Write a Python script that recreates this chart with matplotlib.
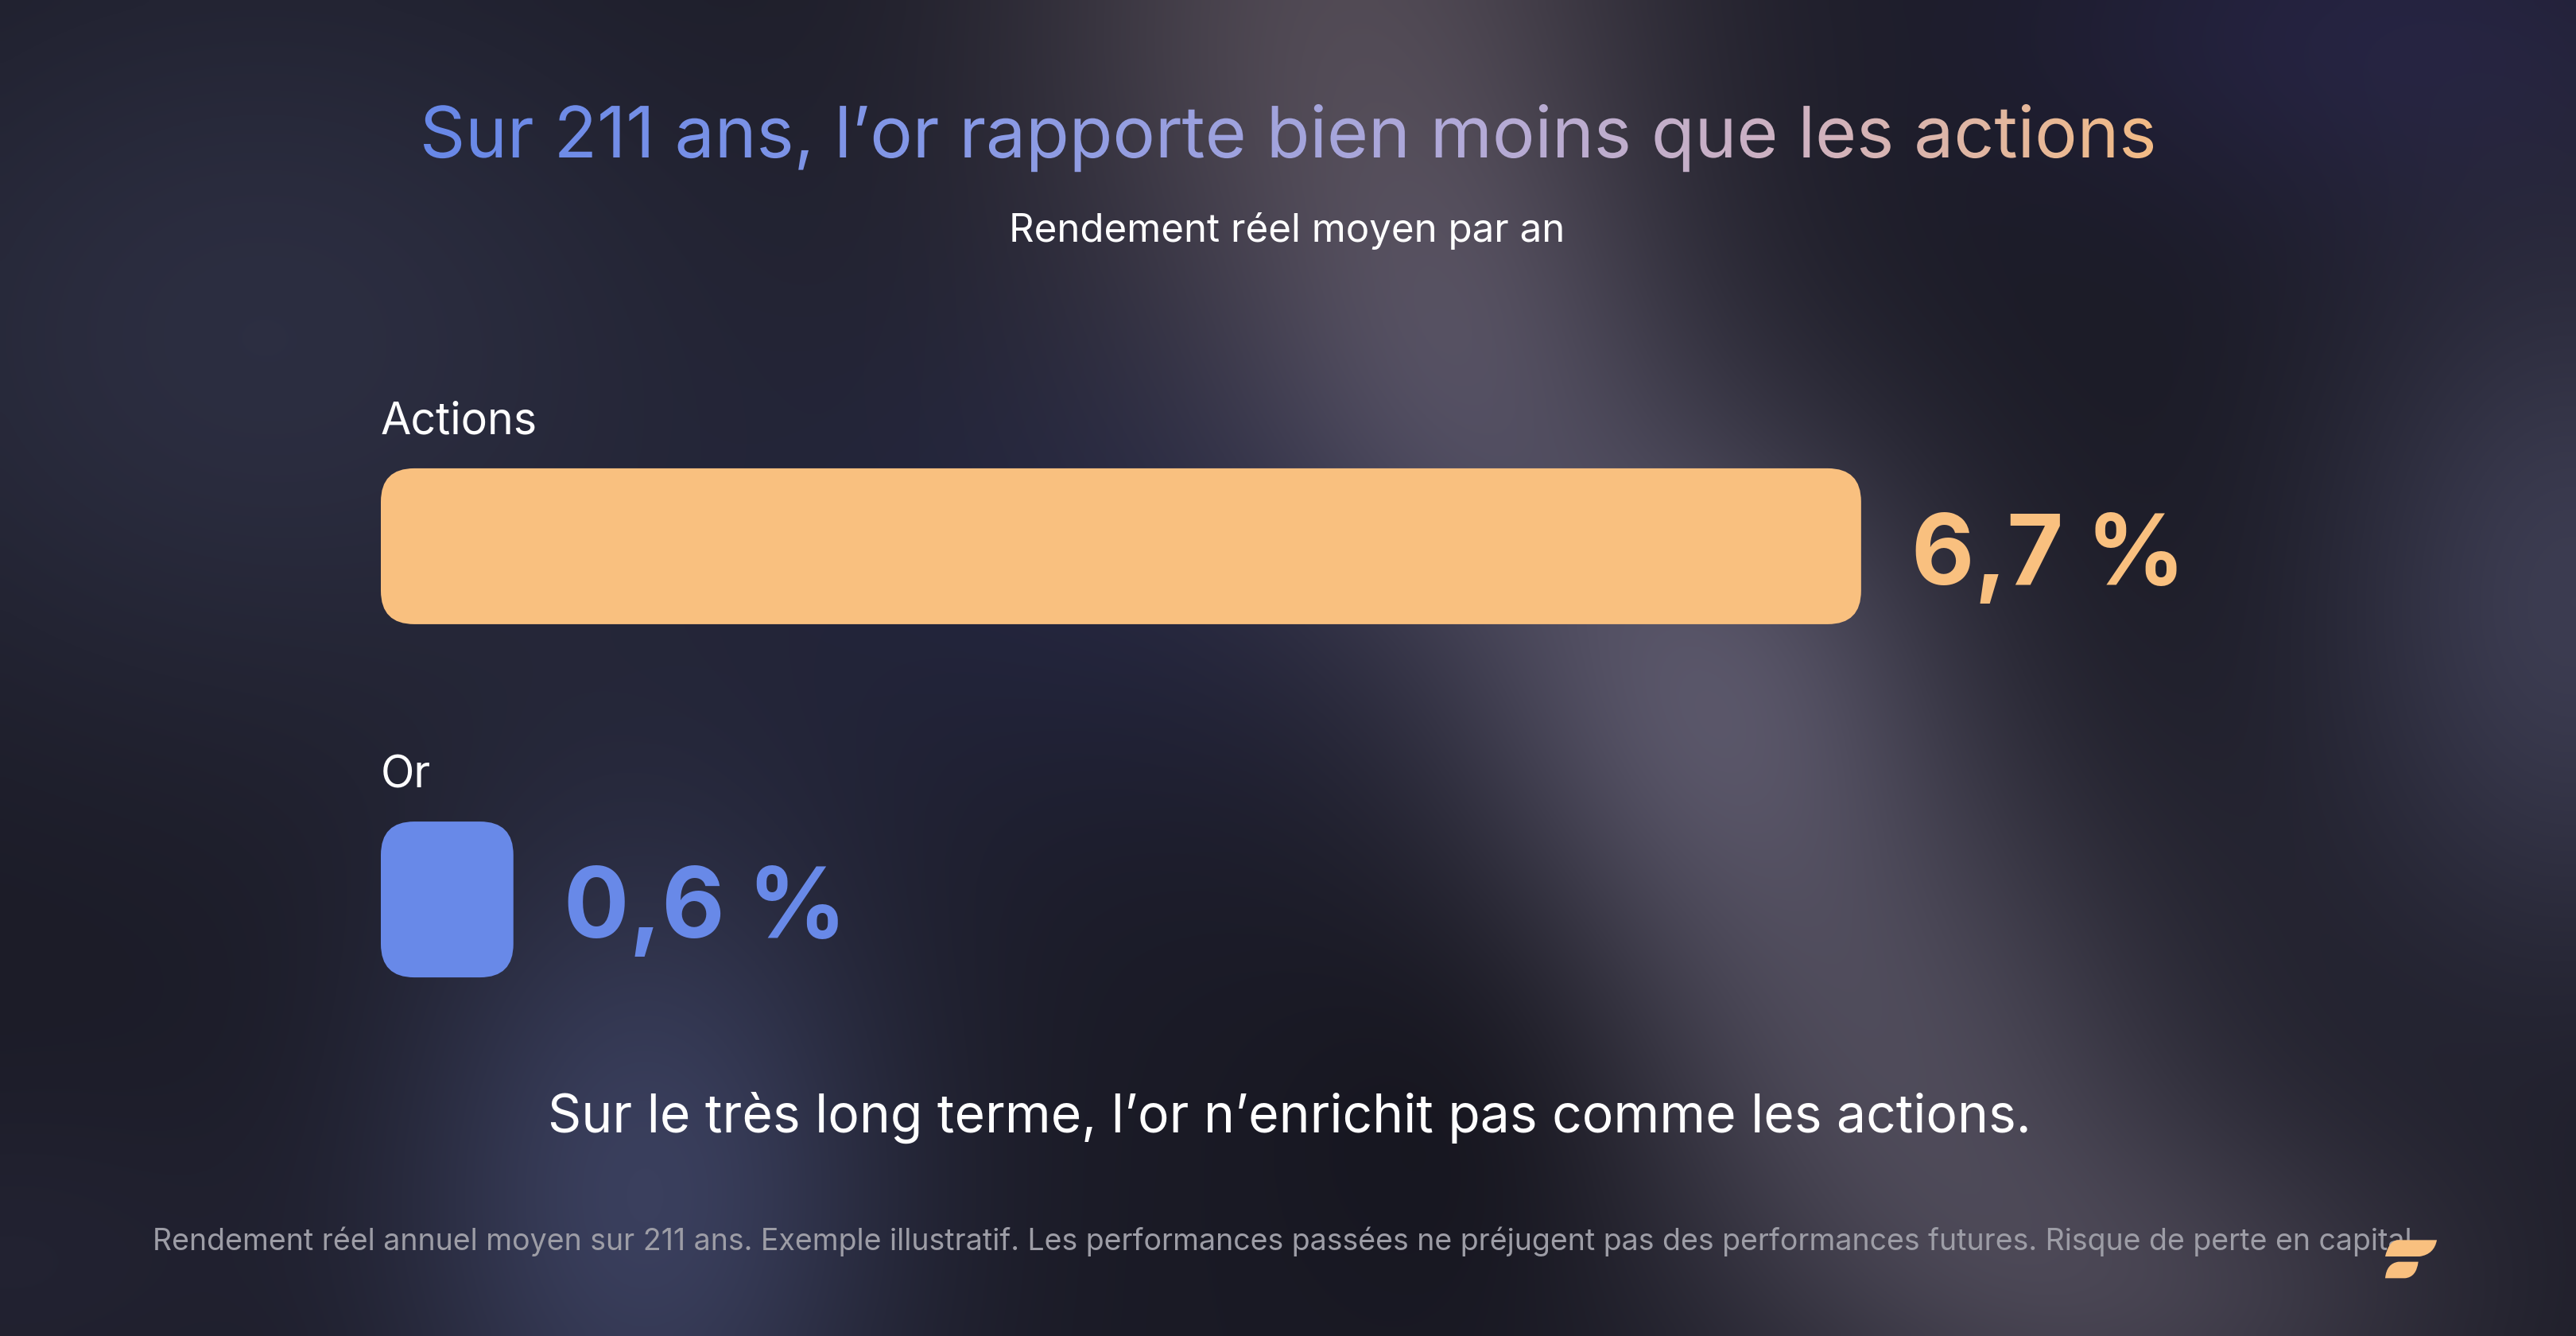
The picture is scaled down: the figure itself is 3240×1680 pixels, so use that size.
import numpy as np
import matplotlib
matplotlib.use("Agg")
import matplotlib.pyplot as plt
from matplotlib.patches import FancyBboxPatch, PathPatch
from matplotlib.textpath import TextPath
from matplotlib.font_manager import FontProperties
from matplotlib.path import Path
from matplotlib.colors import LinearSegmentedColormap
import matplotlib.transforms as mtransforms

# ---------------- data ----------------
categories = ["Actions", "Or"]
values = [6.7, 0.6]
value_labels = ["6,7 %", "0,6 %"]
bar_colors = ["#f9c07f", "#6889e8"]
title = "Sur 211 ans, l’or rapporte bien moins que les actions"
subtitle = "Rendement réel moyen par an"
conclusion = "Sur le très long terme, l’or n’enrichit pas comme les actions."
footnote = ("Rendement réel annuel moyen sur 211 ans. Exemple illustratif. Les performances "
            "passées ne préjugent pas des performances futures. Risque de perte en capital")

# ---------------- figure ----------------
W, H = 3240, 1680
DPI = 100
FONT = ["Inter", "Lato", "DejaVu Sans"]
fig = plt.figure(figsize=(W / DPI, H / DPI), dpi=DPI)
renderer = fig.canvas.get_renderer()

bg = fig.add_axes([0, 0, 1, 1])
bg.axis("off")

# background: soft blurred blobs
base = np.array([26, 26, 37]) / 255.0
blobs = [
    # cx, cy, sx, sy, rgb add
    (0.52, 0.00, 0.09, 0.22, (52, 45, 44)),
    (0.57, 0.28, 0.06, 0.14, (32, 30, 34)),
    (0.665, 0.52, 0.07, 0.15, (56, 53, 60)),
    (0.74, 0.80, 0.08, 0.15, (44, 41, 44)),
    (0.84, 0.98, 0.09, 0.10, (34, 31, 33)),
    (1.00, 0.45, 0.07, 0.20, (34, 34, 44)),
    (0.92, 0.02, 0.10, 0.10, (10, 8, 26)),
    (0.10, 0.25, 0.14, 0.22, (18, 20, 28)),
    (0.25, 0.90, 0.07, 0.20, (32, 37, 56)),
    (0.42, 0.42, 0.10, 0.15, (6, 8, 20)),
    (0.58, 0.82, 0.05, 0.12, (-8, -8, -10)),
    (0.00, 0.95, 0.08, 0.10, (8, 8, 12)),
]
ny, nx = 140, 270
yy, xx = np.mgrid[0:1:ny * 1j, 0:1:nx * 1j]
img = np.zeros((ny, nx, 3)) + base
for cx, cy, sx, sy, col in blobs:
    g = np.exp(-(((xx - cx) / sx) ** 2 + ((yy - cy) / sy) ** 2) / 2)
    img += g[..., None] * np.array(col) / 255.0
img = np.clip(img, 0, 1)
bg.imshow(img, extent=(0, W, H, 0), interpolation="bicubic", aspect="auto", zorder=0)


def fit(t, target_w):
    w = t.get_window_extent(renderer).width
    t.set_fontsize(t.get_fontsize() * target_w / w)
    return t


# title with gradient fill
t_left, t_right, t_base = 533, 2708, 198
fp = FontProperties(family=FONT, weight="normal")
tp = TextPath((0, 0), title, size=100, prop=fp)
ext = tp.get_extents()
k = (t_right - t_left) / ext.width
tr = mtransforms.Affine2D().translate(-ext.x0, 0).scale(k, -k).translate(t_left, t_base)
tpath = tr.transform_path(tp)
clip = PathPatch(tpath, facecolor="none", edgecolor="none", transform=bg.transData)
bg.add_patch(clip)
cmap = LinearSegmentedColormap.from_list(
    "tg", [(0, "#6888e8"), (0.3, "#8598e6"), (0.6, "#b2aad8"), (0.8, "#cfb2c0"), (1, "#f2bb86")])
grad = np.linspace(0, 1, 600)[None, :]
im = bg.imshow(grad, cmap=cmap, extent=(t_left, t_right, t_base + 60, t_base - 130),
               aspect="auto", interpolation="bilinear", zorder=3)
im.set_clip_path(clip)

bg.set_xlim(0, W)
bg.set_ylim(H, 0)

# subtitle, conclusion, footnote
fit(bg.text(1619, 304, subtitle, color="white", ha="center", va="baseline",
            fontsize=30, family=FONT), 700)
fit(bg.text(1622, 1424, conclusion, color="white", ha="center", va="baseline",
            fontsize=40, family=FONT), 1864)
fit(bg.text(192, 1572, footnote, color="#9d9da6", ha="left", va="baseline",
            fontsize=24, family=FONT), 2850)

# logo (decoration)
def lp(zx, zy):
    return (2900 + zx / 3, 1500 + zy / 3)

verts1 = [lp(345, 178), lp(495, 178), lp(485, 232), lp(430, 240), lp(300, 240), lp(312, 185), lp(345, 178), lp(345, 178)]
codes1 = [Path.MOVETO, Path.LINETO, Path.CURVE3, Path.CURVE3, Path.LINETO, Path.CURVE3, Path.CURVE3, Path.CLOSEPOLY]
verts2 = [lp(350, 260), lp(425, 260), lp(418, 318), lp(375, 322), lp(300, 322), lp(305, 266), lp(350, 260), lp(350, 260)]
for v, c in [(verts1, codes1), (verts2, codes1)]:
    bg.add_patch(PathPatch(Path(v, c), facecolor="#f9c07f", edgecolor="none", zorder=5))

# ---------------- bars ----------------
ax_left, ax_right = 479, 2980
ax_top, ax_bot = 376, 1442
XMAX = 9.0
YLIM = (1.7, -0.7)
ax = fig.add_axes([ax_left / W, 1 - ax_bot / H, (ax_right - ax_left) / W, (ax_bot - ax_top) / H])
ax.set_xlim(0, XMAX)
ax.set_ylim(*YLIM)
ax.axis("off")
ax.patch.set_alpha(0)

pxx = (ax_right - ax_left) / XMAX
pxy = (ax_bot - ax_top) / (YLIM[0] - YLIM[1])
ypos = np.arange(len(categories))
bars = ax.barh(ypos, values, height=196 / pxy, color=bar_colors)
r_px = 42
for b in bars:
    b.set_visible(False)
    ax.add_patch(FancyBboxPatch((b.get_x(), b.get_y()), b.get_width(), b.get_height(),
                                boxstyle=f"round,pad=0,rounding_size={r_px / pxx}",
                                mutation_aspect=pxx / pxy, facecolor=b.get_facecolor(),
                                edgecolor="none"))

for y, cat, v, lab, col in zip(ypos, categories, values, value_labels, bar_colors):
    ax.text(0, y - 141 / pxy, cat, color="white", fontsize=40, family=FONT,
            ha="left", va="baseline")
    ax.text(v + 63 / pxx, y + 48 / pxy, lab, color=col, fontsize=88, family=FONT,
            weight="bold", ha="left", va="baseline")

fig.savefig("out.png", dpi=DPI)
